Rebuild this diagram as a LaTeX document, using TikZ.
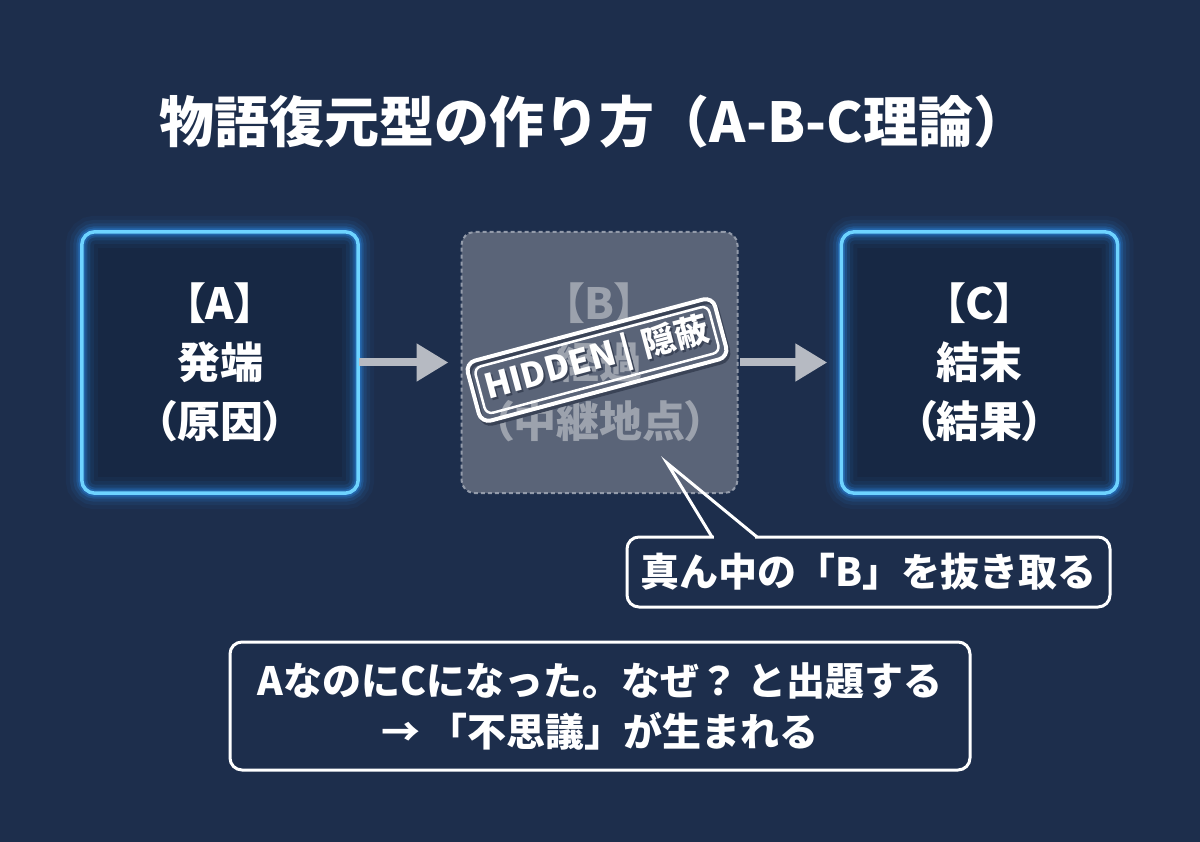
\documentclass[tikz,border=0pt]{standalone}
\usepackage{fontspec}
\setmainfont{Noto Sans CJK JP}
\newfontfamily\jpp{Noto Sans CJK JP}[RawFeature=+palt]
\usetikzlibrary{arrows.meta}
\definecolor{bg}{HTML}{1D2E4C}
\definecolor{boxfill}{HTML}{172844}
\definecolor{glowblue}{HTML}{2B8CEB}
\definecolor{neon}{HTML}{6ED3FF}
\definecolor{hidfill}{HTML}{5A6478}
\definecolor{hidline}{HTML}{939BAA}
\definecolor{hidtext}{HTML}{9CA2AD}
\definecolor{arrowgray}{HTML}{B6BAC2}
\definecolor{shadowgray}{HTML}{3A4356}
\tikzset{
  stagebox/.style={minimum width=276, minimum height=261, rounded corners=13,
    inner sep=0, align=center, text=white,
    font=\jpp\bfseries\fontsize{43}{59}\selectfont},
  flowarrow/.style={draw=arrowgray, line width=8, -{Triangle[length=32pt,width=36pt]}},
  whitebox/.style={draw=white, line width=3, fill=bg, rounded corners=12,
    inner sep=0, align=center, text=white},
  stampframe/.style={draw=white, rotate=15, inner sep=0},
  stamplabel/.style={rotate=15, inner sep=0, font=\bfseries\fontsize{34}{38}\selectfont},
}
\newcommand\neonframe[1]{%
  \foreach \w/\o in {32/0.05,24/0.08,17/0.13,11/0.22,7/0.35}
    \draw[glowblue, line width=\w, opacity=\o, rounded corners=13]
      (#1.north west) rectangle (#1.south east);
  \draw[neon, line width=3.5, rounded corners=13] (#1.north west) rectangle (#1.south east);
}
\begin{document}
\begin{tikzpicture}[x=1pt,y=-1pt]
\fill[bg] (0,0) rectangle (1200,842);
\useasboundingbox (0,0) rectangle (1200,842);

% title
\node[text=white, font=\bfseries\fontsize{55}{62}\selectfont] (title) at (594,122)
  {物語復元型の作り方（A-B-C理論）};

% stage boxes
\node[stagebox, fill=boxfill] (A) at (220,362.5) {【A】\\発端\\（原因）};
\neonframe{A}
\node[stagebox, fill=boxfill] (C) at (979.5,362.5) {【C】\\結末\\（結果）};
\neonframe{C}
\node[stagebox, fill=hidfill, draw=hidline, line width=2, dash pattern=on 4pt off 3pt,
  text=hidtext] (B) at (599.5,362.5) {【B】\\経過\\（中継地点）};

% stamp
\node[stampframe, draw=shadowgray, line width=4, rounded corners=10, minimum width=256, minimum height=62]
  (stampshadow) at (599,363) {};
\node[stampframe, line width=4, rounded corners=10, minimum width=256, minimum height=62]
  (stamp) at (597,360) {};
\node[stampframe, line width=2.5, rounded corners=7, minimum width=242, minimum height=48]
  (stampin) at (stamp.center) {};
\node[stamplabel, text=shadowgray] (stampshade) at ([xshift=2, yshift=-2]stamp.center) {HIDDEN\,|\,\,隠蔽};
\node[stamplabel, text=white] (stamptext) at (stamp.center) {HIDDEN\,|\,\,隠蔽};

% arrows
\draw[flowarrow, shorten <=1, shorten >=12] (A.east) -- (B.west);
\draw[flowarrow, shorten <=1, shorten >=14] (B.east) -- (C.west);

% callout
\node[whitebox, minimum width=483, minimum height=70,
  font=\bfseries\fontsize{39}{44}\selectfont] (note) at (868.5,572) {真ん中の「B」を抜き取る};
\coordinate (tip) at (667,463);
\coordinate (bl) at (712,537);
\coordinate (br) at (757,537);
\draw[bg, line width=5] (714,537) -- (755,537);
\draw[white, line width=3, line join=miter] (bl) -- (tip) -- (br);

% bottom box
\node[whitebox, minimum width=740, minimum height=128,
  font=\bfseries\fontsize{39}{51}\selectfont] (question) at (600,706)
  {AなのにCになった。なぜ？ と出題する\\→ 「不思議」が生まれる};
\end{tikzpicture}
\end{document}
